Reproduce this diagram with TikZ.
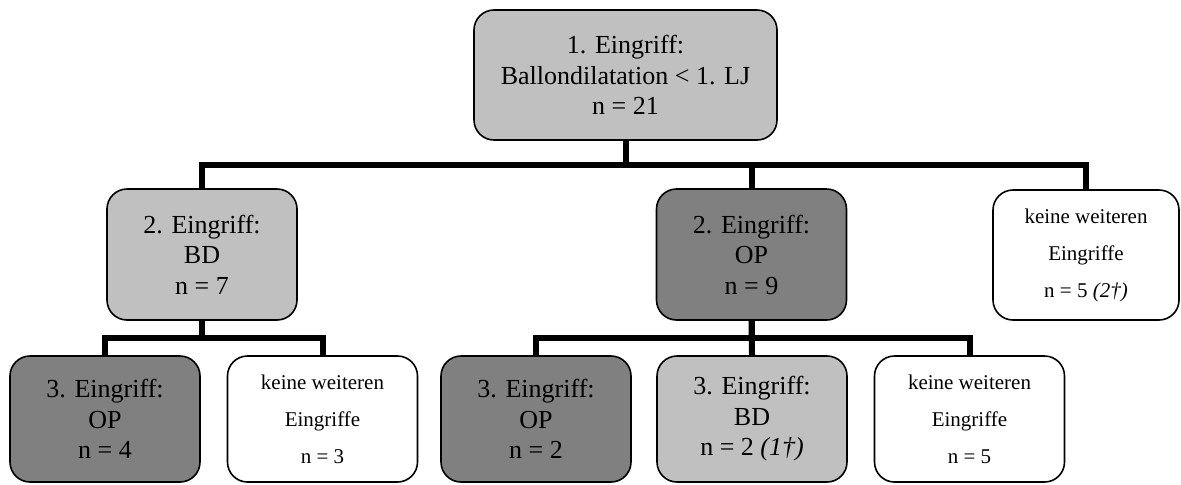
\documentclass[tikz,border=0pt]{standalone}
\usepackage{fontspec}
\setmainfont{Liberation Serif}
\definecolor{hellgrau}{HTML}{C0C0C0}
\definecolor{dunkelgrau}{HTML}{808080}
\begin{document}
\begin{tikzpicture}[
x=0.5pt, y=-0.5pt,
every node/.style={draw, rounded corners=10pt, align=center, line width=0.8pt, inner sep=0pt},
gross/.style={font=\fontsize{13}{15.25}\selectfont},
klein/.style={font=\fontsize{10.5}{18.5}\selectfont, fill=white},
bd/.style={gross, fill=hellgrau},
op/.style={gross, fill=dunkelgrau},
ebene 2/.style={minimum width=95pt, minimum height=65.5pt},
ebene 3/.style={minimum width=95pt, minimum height=63pt},
verbindung/.style={line width=3pt}
]
\useasboundingbox (0,0) rectangle (1181,484);
\coordinate (balken1) at (0,165);
\coordinate (balken2) at (0,338);

\node[bd, minimum width=151.5pt, minimum height=65pt] (eingriff1) at (625.5,75)
  {1. Eingriff:\\ Ballondilatation < 1. LJ\\ n = 21};

\node[bd, ebene 2] (bd2) at (202,254.5) {2. Eingriff:\\ BD\\ n = 7};
\node[op, ebene 2] (op2) at (751.5,254.5) {2. Eingriff:\\ OP\\ n = 9};
\node[klein, minimum width=93pt, minimum height=65pt] (keine2) at (1086,255)
  {keine weiteren\\ Eingriffe\\ n = 5 \textit{(2†)}};

\node[op, ebene 3] (op3a) at (105,419) {3. Eingriff:\\ OP\\ n = 4};
\node[klein, ebene 3] (keine3a) at (322.5,419) {keine weiteren\\ Eingriffe\\ n = 3};
\node[op, ebene 3] (op3b) at (536,419) {3. Eingriff:\\ OP\\ n = 2};
\node[bd, ebene 3] (bd3) at (752,419) {3. Eingriff:\\ BD\\ n = 2 \textit{(1†)}};
\node[klein, ebene 3] (keine3b) at (969.5,419) {keine weiteren\\ Eingriffe\\ n = 5};

% Verbindungen
\draw[verbindung] (eingriff1.south) -- (eingriff1.south |- balken1) -| (bd2.north);
\draw[verbindung] (eingriff1.south |- balken1) -| (op2.north);
\draw[verbindung] (eingriff1.south |- balken1) -| (keine2.north);

\draw[verbindung] (bd2.south) -- (bd2.south |- balken2) -| (op3a.north);
\draw[verbindung] (bd2.south |- balken2) -| (keine3a.north);

\draw[verbindung] (op2.south) -- (op2.south |- balken2) -| (op3b.north);
\draw[verbindung] (op2.south) -- (bd3.north);
\draw[verbindung] (op2.south |- balken2) -| (keine3b.north);
\end{tikzpicture}
\end{document}
